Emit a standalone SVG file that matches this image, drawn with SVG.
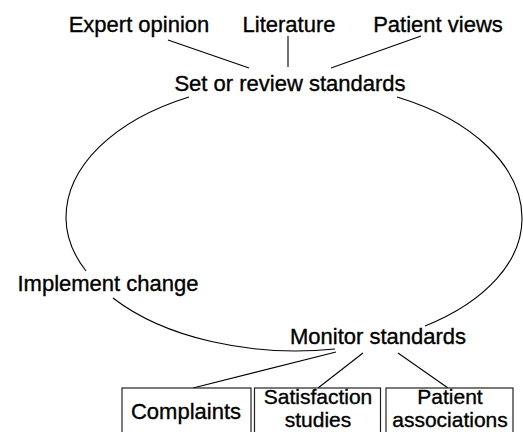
<svg xmlns="http://www.w3.org/2000/svg" width="523" height="432" viewBox="0 0 523 432">
<style>
text{font-family:"Liberation Sans",Arial,sans-serif;font-size:22px;fill:#000;stroke:#000;stroke-width:0.35}
.c{text-anchor:middle}
.s{font-size:21px}
.ln{stroke:#000;stroke-width:1.1;fill:none}
.bx{stroke:#222;stroke-width:1.2;fill:#fff}
</style>
<rect width="523" height="432" fill="#fff"/>
<g id="connectors">
<line class="ln" x1="168" y1="40" x2="249" y2="68"/>
<line class="ln" x1="288" y1="36" x2="288" y2="67"/>
<line class="ln" x1="421" y1="36" x2="331" y2="68"/>
<path class="ln" d="M189,97 A228,136 0 0 0 66,218 A228,131 0 0 0 86,271"/>
<path class="ln" d="M113,298 A228,131 0 0 0 335,349"/>
<path class="ln" d="M425,326 A228,131 0 0 0 522,218 A228,136 0 0 0 397,97"/>
<line class="ln" x1="336" y1="352" x2="193" y2="388"/>
<line class="ln" x1="363" y1="353" x2="318" y2="388"/>
<line class="ln" x1="398" y1="353" x2="448" y2="388"/>
</g>
<g id="expert"><text x="139" y="32" class="c">Expert opinion</text></g>
<g id="literature"><text x="289" y="32" class="c">Literature</text></g>
<g id="patient-views"><text x="438" y="32" class="c">Patient views</text></g>
<g id="set"><text x="290" y="91" class="c">Set or review standards</text></g>
<g id="implement"><text x="108" y="291" class="c">Implement change</text></g>
<g id="monitor"><text x="378" y="344" class="c">Monitor standards</text></g>
<g id="complaints"><rect class="bx" x="122" y="388" width="129" height="60"/><text x="186" y="419" class="c">Complaints</text></g>
<g id="satisfaction"><rect class="bx" x="254.5" y="388" width="126" height="60"/><text x="318" y="404" class="c s">Satisfaction</text><text x="318" y="427.4" class="c s">studies</text></g>
<g id="associations"><rect class="bx" x="386" y="388" width="127" height="60"/><text x="450" y="404" class="c s">Patient</text><text x="450" y="427.4" class="c s">associations</text></g>
</svg>
